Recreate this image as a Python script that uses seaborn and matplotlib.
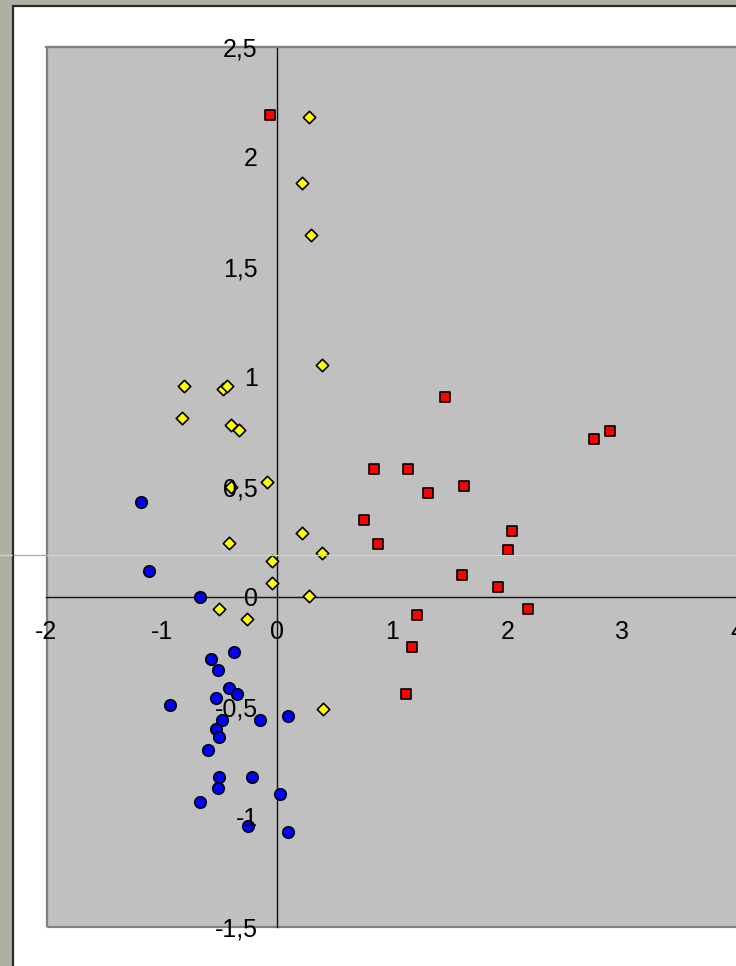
import pandas as pd
import matplotlib
matplotlib.use("Agg")
import matplotlib.pyplot as plt
import seaborn as sns
from matplotlib.patches import Rectangle
from matplotlib.lines import Line2D

# Group A (blue circles)
a_x = [-1.18, -1.11, -0.67, -0.37, -0.57, -0.51, -0.42, -0.35, -0.53, -0.93,
       -0.475, -0.15, 0.10, -0.53, -0.50, -0.60, -0.50, -0.215, -0.51, -0.67,
       0.03, -0.25, 0.10]
a_y = [0.43, 0.12, 0.00, -0.25, -0.28, -0.33, -0.415, -0.44, -0.46, -0.49,
       -0.56, -0.56, -0.54, -0.60, -0.635, -0.695, -0.82, -0.82, -0.87, -0.93,
       -0.895, -1.04, -1.07]

# Group B (red squares)
b_x = [-0.06, 1.46, 2.89, 2.75, 0.84, 1.135, 1.62, 1.31, 0.756, 2.04,
       0.88, 2.005, 1.61, 1.915, 2.18, 1.22, 1.17, 1.12]
b_y = [2.19, 0.91, 0.756, 0.72, 0.583, 0.583, 0.503, 0.474, 0.349, 0.30,
       0.24, 0.212, 0.10, 0.047, -0.053, -0.08, -0.226, -0.44]

# Group C (yellow diamonds)
c_x = [0.276, 0.22, 0.30, 0.395, -0.81, -0.47, -0.43, -0.82, -0.40, -0.33,
       -0.085, -0.40, 0.22, -0.42, 0.395, -0.04, -0.04, 0.28, -0.505, -0.26,
       0.40]
c_y = [2.18, 1.88, 1.645, 1.055, 0.96, 0.945, 0.96, 0.815, 0.78, 0.76,
       0.524, 0.50, 0.29, 0.245, 0.20, 0.162, 0.062, 0.006, -0.056, -0.10,
       -0.51]

x_ticks = [-2, -1, 0, 1, 2, 3, 4]
x_labels = ["-2", "-1", "0", "1", "2", "3", "4"]
y_ticks = [-1.5, -1, -0.5, 0, 0.5, 1, 1.5, 2, 2.5]
y_labels = ["-1,5", "-1", "-0,5", "0", "0,5", "1", "1,5", "2", "2,5"]

df = pd.concat([
    pd.DataFrame({"x": a_x, "y": a_y, "grupo": "A"}),
    pd.DataFrame({"x": b_x, "y": b_y, "grupo": "B"}),
    pd.DataFrame({"x": c_x, "y": c_y, "grupo": "C"}),
], ignore_index=True)

sns.set_style("white")
plt.rcParams["font.family"] = ["Liberation Sans", "DejaVu Sans"]
plt.rcParams["axes.unicode_minus"] = False

W, H = 736, 966
fig = plt.figure(figsize=(W / 100, H / 100), dpi=100, facecolor="#aeb0a1")

# white chart area with dark frame
fig.add_artist(Rectangle((12.5 / W, -0.05), 1.2, (H - 5.5) / H + 0.05,
                         transform=fig.transFigure, facecolor="white",
                         edgecolor="#2a2a2a", linewidth=1.6, zorder=-1))

ax = fig.add_axes([46.5 / W, (H - 927) / H, (737.7 - 46.5) / W, 880 / H])
ax.set_facecolor("#c0c0c0")

marks = {"A": ("o", "#0000ff", 68), "B": ("s", "#ff0000", 60), "C": ("D", "#ffff00", 40)}
for name, (m, col, size) in marks.items():
    sns.scatterplot(data=df[df["grupo"] == name], x="x", y="y", marker=m,
                    color=col, s=size, edgecolor="black", linewidth=1.2,
                    ax=ax, zorder=3, legend=False)

ax.set_xlim(-2, 4)
ax.set_ylim(-1.5, 2.5)
ax.set_xlabel("")
ax.set_ylabel("")

# axes crossing at the origin
for side in ("left", "bottom"):
    ax.spines[side].set_position(("data", 0))
    ax.spines[side].set_color("#111111")
    ax.spines[side].set_linewidth(1.0)
for side in ("top", "right"):
    ax.spines[side].set_color("#808080")
    ax.spines[side].set_linewidth(1.6)
ax.add_patch(Rectangle((0, 0), 1, 1, transform=ax.transAxes, fill=False,
                       edgecolor="#808080", linewidth=1.6, clip_on=False, zorder=2))

ax.set_xticks(x_ticks)
ax.set_xticklabels(x_labels)
ax.set_yticks(y_ticks)
ax.set_yticklabels(y_labels)
ax.tick_params(axis="x", direction="out", length=5.8, width=0.8, color="#222222",
               pad=11, labelsize=18, labelcolor="black")
ax.tick_params(axis="y", direction="out", length=5.8, width=0.8, color="#222222",
               pad=8, labelsize=18, labelcolor="black")
ax.xaxis.set_zorder(4)
ax.yaxis.set_zorder(4)

# faint horizontal rule across the sheet
yl = (H - 555) / H
fig.add_artist(Line2D([0, 12 / W], [yl, yl], color="#d4d4c8", lw=0.9, zorder=5))
fig.add_artist(Line2D([14 / W, 46 / W], [yl, yl], color="#a8a8a8", lw=0.9, zorder=5))
fig.add_artist(Line2D([47 / W, 1], [yl, yl], color="#d2d2c6", lw=0.9, zorder=5))

fig.savefig("out.png", dpi=100, facecolor=fig.get_facecolor())
